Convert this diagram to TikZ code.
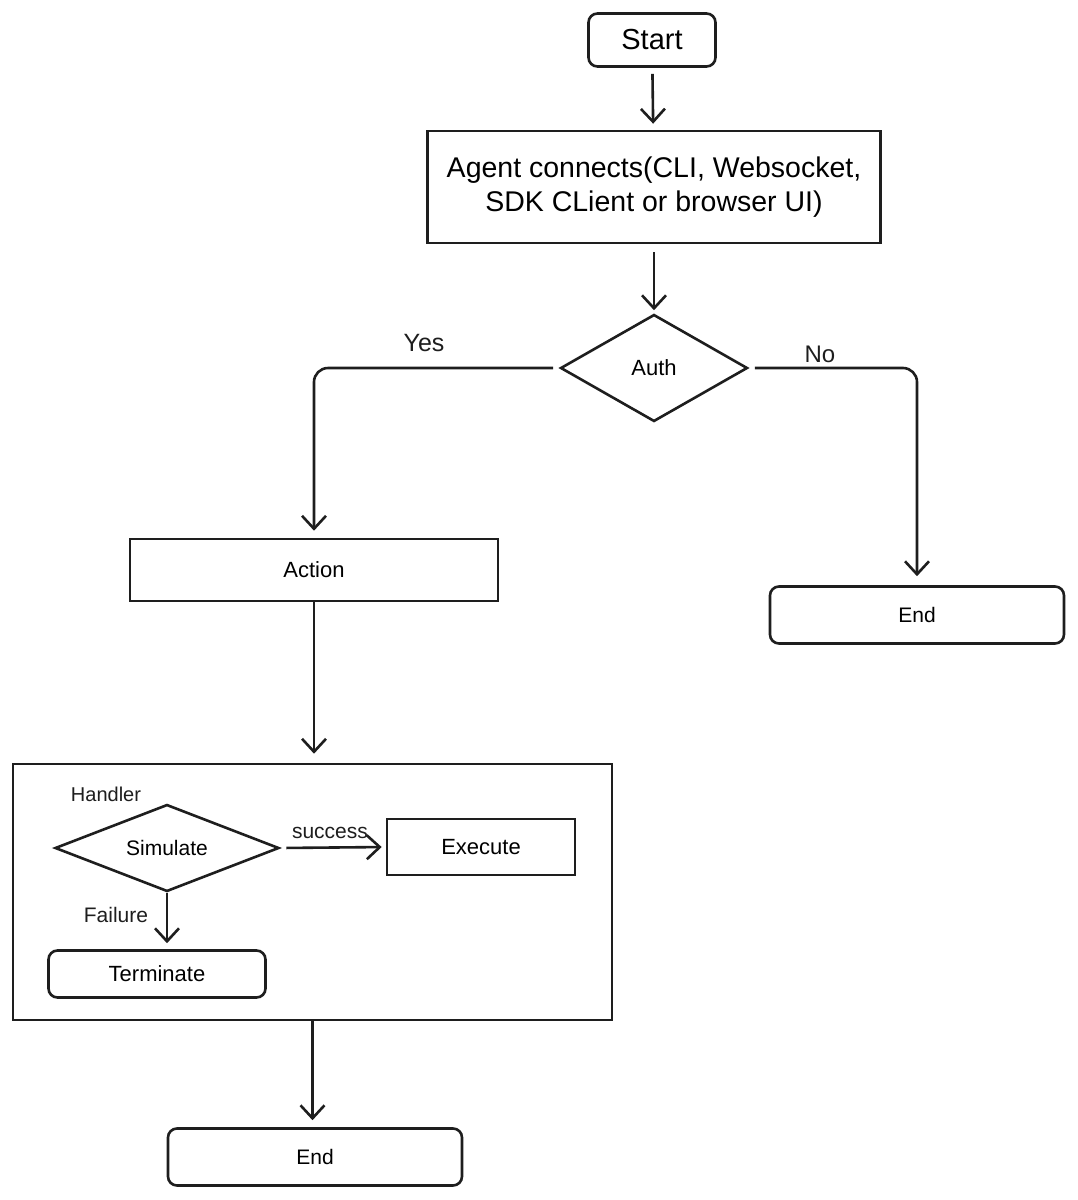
\documentclass[tikz,border=0pt]{standalone}
\usepackage{fontspec}
\setmainfont{Liberation Sans}
\usetikzlibrary{arrows.meta, positioning, shapes.geometric}
\definecolor{cink}{HTML}{1E1E1E}
\tikzset{
  every picture/.style={line width=2.6pt, x=1pt, y=-1pt},
  box/.style={draw=cink, fill=white, align=center, inner sep=4pt},
  rbox/.style={box, rounded corners=9pt},
  dec/.style={draw=cink, diamond, inner sep=0pt, align=center},
  arrow/.style={-{Straight Barb[length=13pt, width=24pt]}, draw=cink, line width=2.6pt},
  lbl/.style={text=cink, font=\fontsize{21}{24}\selectfont},
}
\begin{document}
\begin{tikzpicture}
  \useasboundingbox (0,0) rectangle (1077,1200);
  % top part
  \node[rbox, minimum width=127pt, minimum height=53pt, font=\fontsize{29}{32}\selectfont] (start) at (652,40) {Start};
  \node[box, minimum width=453pt, minimum height=112pt, font=\fontsize{28.5}{34}\selectfont] (agent) at (654,187) {Agent connects(CLI, Websocket,\\SDK CLient or browser UI)};
  \node[dec, aspect=1.75, minimum width=187pt, minimum height=107pt, font=\fontsize{22}{26}\selectfont] (auth) at (654,368) {Auth};
  \draw[arrow, shorten <=6pt, shorten >=6pt] (start) -- (agent);
  \draw[arrow, shorten <=8pt, shorten >=3pt] (agent) -- (auth);
  % branches
  \node[box, minimum width=368pt, minimum height=62pt, font=\fontsize{22}{26}\selectfont] (action) at (314,570) {Action};
  \node[rbox, minimum width=294pt, minimum height=57pt, font=\fontsize{21}{24}\selectfont] (endr) at (917,615) {End};
  \draw[arrow, rounded corners=14pt, shorten <=6pt, shorten >=7pt] (auth.west) -| (action.north);
  \draw[arrow, rounded corners=14pt, shorten <=6pt, shorten >=9pt] (auth.east) -| (endr.north);
  \node[lbl, font=\fontsize{25}{28}\selectfont] (yes) at (424,343) {Yes};
  \node[lbl, font=\fontsize{24}{28}\selectfont] (no) at (820,354) {No};
  % handler
  \node[box, minimum width=599pt, minimum height=256pt] (handler) at (312.5,892) {};
  \node[lbl, font=\fontsize{20}{24}\selectfont] (hlbl) at (106,794) {Handler};
  \draw[arrow, shorten >=9pt] (action.south) -- (action.south |- handler.north);
  \node[dec, aspect=2.6, minimum width=224pt, minimum height=87pt, font=\fontsize{21}{24}\selectfont] (sim) at (167,848) {Simulate};
  \node[box, minimum width=188pt, minimum height=56pt, font=\fontsize{22}{26}\selectfont] (exec) at (481,847) {Execute};
  \node[rbox, minimum width=217pt, minimum height=47pt, font=\fontsize{22}{26}\selectfont] (term) at (157,974) {Terminate};
  \draw[arrow, shorten <=6pt, shorten >=4pt] (sim.east) -- (exec.west);
  \draw[arrow, shorten >=6pt] (sim.south) -- (term.north -| sim.south);
  \node[lbl] (succ) at (330,833) {success};
  \node[lbl] (fail) at (116,915) {Failure};
  % bottom
  \node[rbox, minimum width=294pt, minimum height=57pt, font=\fontsize{21}{24}\selectfont] (endb) at (315,1157) {End};
  \draw[arrow, shorten >=7pt] (handler.south) -- (handler.south |- endb.north);
\end{tikzpicture}
\end{document}
